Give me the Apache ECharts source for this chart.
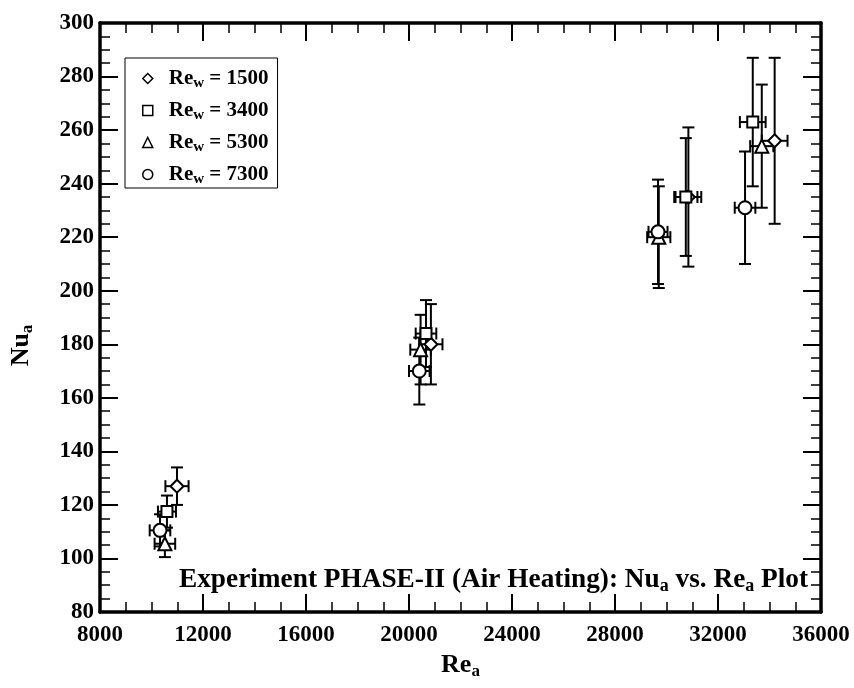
<!DOCTYPE html>
<html>
<head>
<meta charset="utf-8">
<script src="https://cdn.jsdelivr.net/npm/echarts@6/dist/echarts.min.js"></script>
<style>
  html, body { margin: 0; padding: 0; background: #fff; }
  #chart { width: 854px; height: 688px; }
</style>
</head>
<body>
<div id="chart"></div>
<script>
// Air-side Reynolds number (Re_a) and Nusselt number (Nu_a) for each water-side Re_w
const seriesNames = ['1500', '3400', '5300', '7300'];
const symbols = ['diamond', 'rect', 'triangle', 'circle'];

const re1500 = [10990, 20850, 30850, 34200];
const nu1500 = [127, 180, 235, 256];
const re3400 = [10600, 20660, 30750, 33350];
const nu3400 = [117.5, 184, 235, 263];
const re5300 = [10520, 20450, 29700, 33700];
const nu5300 = [105.5, 178, 220, 254];
const re7300 = [10330, 20400, 29670, 33050];
const nu7300 = [110.5, 170, 222, 231];

// uncertainty half-widths
const nuErr1500 = [7, 15, 26, 31];
const reErr1500 = [450, 450, 500, 500];
const nuErr3400 = [6, 12.5, 22, 24];
const reErr3400 = [350, 400, 450, 500];
const nuErr5300 = [5, 13, 19, 23];
const reErr5300 = [400, 400, 450, 450];
const nuErr7300 = [6, 12.5, 19.5, 21];
const reErr7300 = [400, 400, 370, 400];

const xTicks = { min: 8000, max: 36000, step: 4000 };
const yTicks = { min: 80, max: 300, step: 20 };

const groups = [
  [re1500, nu1500, reErr1500, nuErr1500],
  [re3400, nu3400, reErr3400, nuErr3400],
  [re5300, nu5300, reErr5300, nuErr5300],
  [re7300, nu7300, reErr7300, nuErr7300]
];

const FONT = '"Liberation Serif", "Times New Roman", serif';
const chart = echarts.init(document.getElementById('chart'));

const CAP = 6;
function errorBarItem(params, api) {
  const x = api.value(0), y = api.value(1), dx = api.value(2), dy = api.value(3);
  const top = api.coord([x, y + dy]);
  const bot = api.coord([x, y - dy]);
  const lft = api.coord([x - dx, y]);
  const rgt = api.coord([x + dx, y]);
  const style = { stroke: '#000', lineWidth: 2 };
  const seg = (x1, y1, x2, y2) => ({ type: 'line', shape: { x1, y1, x2, y2 }, style });
  return {
    type: 'group',
    children: [
      seg(top[0], top[1], bot[0], bot[1]),
      seg(top[0] - CAP, top[1], top[0] + CAP, top[1]),
      seg(bot[0] - CAP, bot[1], bot[0] + CAP, bot[1]),
      seg(lft[0], lft[1], rgt[0], rgt[1]),
      seg(lft[0], lft[1] - CAP, lft[0], lft[1] + CAP),
      seg(rgt[0], rgt[1] - CAP, rgt[0], rgt[1] + CAP)
    ]
  };
}

const series = [];
groups.forEach((g, i) => {
  const [re, nu, dre, dnu] = g;
  series.push({
    type: 'custom',
    name: seriesNames[i] + '_err',
    renderItem: errorBarItem,
    data: re.map((v, k) => [v, nu[k], dre[k], dnu[k]]),
    z: 2,
    silent: true
  });
});
groups.forEach((g, i) => {
  const [re, nu] = g;
  series.push({
    type: 'scatter',
    name: seriesNames[i],
    symbol: symbols[i],
    symbolSize: i === 1 ? 11 : 13,
    itemStyle: { color: '#fff', borderColor: '#000', borderWidth: 2, opacity: 1 },
    data: re.map((v, k) => [v, nu[k]]),
    z: 3
  });
});

const tickCommon = {
  axisLine: { show: true, onZero: false, lineStyle: { color: '#000', width: 3.5 } },
  axisTick: { show: true, inside: true, length: 18, lineStyle: { color: '#000', width: 2 } },
  minorTick: { show: true, splitNumber: 4, length: 10, lineStyle: { color: '#000', width: 1.5 } },
  splitLine: { show: false },
  minorSplitLine: { show: false }
};

const subRich = (size, subSize, drop) => ({
  t: { fontFamily: FONT, fontWeight: 'bold', fontSize: size, color: '#000' },
  s: { fontFamily: FONT, fontWeight: 'bold', fontSize: subSize, color: '#000', padding: [drop, 0, 0, 0] }
});

const option = {
  animation: false,
  backgroundColor: '#fff',
  grid: { left: 100, right: 33, top: 23, bottom: 76, containLabel: false },
  title: {
    text: '{t|Experiment PHASE-II (Air Heating): Nu}{s|a}{t| vs. Re}{s|a}{t| Plot}',
    left: 174,
    top: 559,
    textStyle: { rich: subRich(27.3, 18, 13) }
  },
  legend: {
    orient: 'vertical',
    left: 125,
    top: 58,
    padding: [10, 9, 1, 17],
    itemGap: 9,
    itemWidth: 10,
    itemHeight: 10,
    borderColor: '#000',
    borderWidth: 1,
    itemStyle: { color: '#fff', borderColor: '#000', borderWidth: 1.5 },
    data: seriesNames.map((n, i) => ({ name: n, icon: symbols[i] })),
    formatter: n => '{g|}{t|Re}{s|w}{t| = ' + n + '}',
    textStyle: {
      rich: Object.assign({ g: { width: 11 } }, subRich(21, 15, 10))
    }
  },
  xAxis: [
    Object.assign({}, tickCommon, {
      type: 'value', position: 'bottom',
      min: xTicks.min, max: xTicks.max, interval: xTicks.step,
      name: '{t|Re}{s|a}', nameLocation: 'middle', nameGap: 32,
      nameTextStyle: { rich: subRich(26, 17, 13) },
      axisLabel: { fontFamily: FONT, fontWeight: 'bold', fontSize: 23, color: '#000', margin: 12,
        formatter: v => String(v) }
    }),
    Object.assign({}, tickCommon, {
      type: 'value', position: 'top',
      min: xTicks.min, max: xTicks.max, interval: xTicks.step,
      axisLabel: { show: false }
    })
  ],
  yAxis: [
    Object.assign({}, tickCommon, {
      type: 'value', position: 'left',
      min: yTicks.min, max: yTicks.max, interval: yTicks.step,
      name: '{t|Nu}{s|a}', nameLocation: 'middle', nameGap: 64, nameRotate: 90,
      nameTextStyle: { rich: subRich(26, 17, 13), padding: [0, 56, 0, 0] },
      axisLabel: { fontFamily: FONT, fontWeight: 'bold', fontSize: 23, color: '#000', margin: 6 }
    }),
    Object.assign({}, tickCommon, {
      type: 'value', position: 'right',
      min: yTicks.min, max: yTicks.max, interval: yTicks.step,
      axisLabel: { show: false }
    })
  ],
  series: series
};

chart.setOption(option);
</script>
</body>
</html>
